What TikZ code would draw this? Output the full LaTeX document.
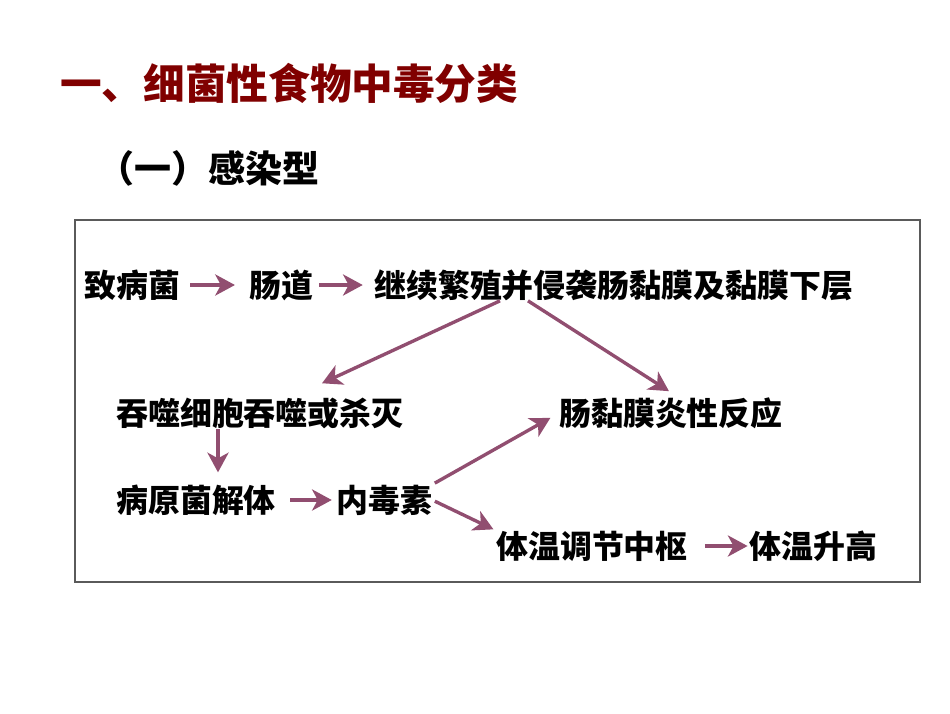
\documentclass[tikz,border=0pt]{standalone}
\usepackage{fontspec}
\newfontfamily\cjk{Noto Sans CJK SC}
\usetikzlibrary{arrows.meta, calc, positioning}
\definecolor{titlered}{RGB}{128,0,0}
\definecolor{arrowcol}{RGB}{145,78,112}
\definecolor{framegray}{RGB}{90,90,90}
\tikzstyle{txt} = [inner sep=0pt, anchor=west, text=black, font=\cjk\bfseries\fontsize{22.7}{26}\selectfont]
\tikzstyle{arrow} = [line width=2.4pt, draw=arrowcol, ->, >={Stealth[length=14pt, width=15pt, inset=4pt]}]

\begin{document}
\begin{tikzpicture}[x=0.025cm, y=-0.025cm]
    \useasboundingbox (0,0) rectangle (950,713);

    % headings
    \node (title) [anchor=west, inner sep=0pt, text=titlered, font=\cjk\bfseries\fontsize{29.6}{34}\selectfont] at (60,83) {一、细菌性食物中毒分类};
    \node (type) [anchor=east, inner sep=0pt, font=\cjk\bfseries\fontsize{26.3}{30}\selectfont] at (320,168) {（一）感染型};

    \draw[framegray, line width=0.8pt] (75,220) rectangle (920,582);

    \node (bact) [txt] at (84,285) {致病菌};
    \node (gut) [txt] at (249,285) {肠道};
    \node (spread) [txt] at (374,285) {继续繁殖并侵袭肠黏膜及黏膜下层};
    \node (phago) [txt] at (116,413) {吞噬细胞吞噬或杀灭};
    \node (mucosa) [txt] at (559,413) {肠黏膜炎性反应};
    \node (lysis) [txt] at (116,500) {病原菌解体};
    \node (toxin) [txt] at (336,500) {内毒素};
    \node (center) [txt] at (496,546) {体温调节中枢};
    \node (rise) [txt] at (749,546) {体温升高};

    \draw[arrow, shorten <=7pt, shorten >=10pt] (bact) -- (gut);
    \draw[arrow, shorten <=4pt, shorten >=8pt] (gut) -- (spread);
    \draw[arrow] ($(spread.south west)+(126,0)$) -- ($(phago.north west)+(206,-14)$);
    \draw[arrow] ($(spread.south west)+(154,0)$) -- ($(mucosa.north west)+(110,-6)$);
    \draw[arrow] ($(phago.south west)+(102,0)$) -- ($(lysis.north west)+(102,-12)$);
    \draw[arrow, shorten <=10pt, shorten >=3pt] (lysis) -- (toxin);
    \draw[arrow, shorten <=2pt, shorten >=7pt] (toxin.north east) -- (mucosa.west);
    \draw[arrow, shorten <=2pt, shorten >=2pt] (toxin.east) -- (center.north west);
    \draw[arrow, shorten <=12pt, shorten >=1pt] (center) -- (rise);

\end{tikzpicture}
\end{document}
